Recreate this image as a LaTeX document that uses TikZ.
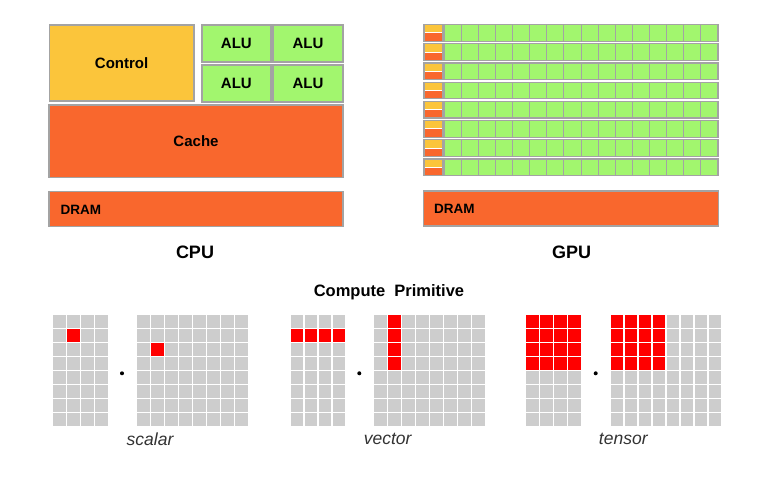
\documentclass[tikz,border=0pt]{standalone}
\usepackage{fontspec}
\setmainfont{Liberation Sans}
\definecolor{ctrl}{HTML}{FBC53B}
\definecolor{alu}{HTML}{A2F66E}
\definecolor{cache}{HTML}{F9672D}
\definecolor{bord}{HTML}{A3A3A3}
\definecolor{cellg}{HTML}{CDCDCD}
\definecolor{cellr}{HTML}{FF0000}
\definecolor{lbl}{HTML}{333333}
\newcommand{\fs}[1]{\fontsize{#1}{#1}\selectfont}
\newcommand{\gridat}[4]{% x0 y0 cols rows
  \foreach \c in {1,...,#3}{
    \foreach \r in {1,...,#4}{
      \fill[cellg] ({#1+14*(\c-1)},{#2+14*(\r-1)}) rectangle ++(12.5,12.5);
    }
  }
}
\newcommand{\redat}[4]{% x0 y0 col row (0-indexed)
  \fill[cellr] ({#1+14*#3},{#2+14*#4}) rectangle ++(12.5,12.5);
}
\begin{document}
\begin{tikzpicture}[x=1pt,y=-1pt,
  blk/.style={draw=bord, line width=1.5pt, inner sep=0pt, font=\bfseries\fs{15}},
  titletxt/.style={font=\bfseries\fs{18}, inner sep=0pt},
  captxt/.style={font=\itshape\fs{17.5}, text=lbl, inner sep=0pt},
  gpucell/.style={draw=bord, line width=1pt, fill=alu}]
\useasboundingbox[fill=white] (0,0) rectangle (762,479);

% ---------------- CPU ----------------
\node[blk, fill=ctrl, minimum width=144.7pt, minimum height=76pt] (control) at (121.6,63) {Control};
\node[blk, fill=alu, minimum width=68.7pt, minimum height=36.7pt] (alu1) at (236.4,43.4) {ALU};
\node[blk, fill=alu, minimum width=70pt, minimum height=36.7pt] (alu2) at (308,43.4) {ALU};
\node[blk, fill=alu, minimum width=68.7pt, minimum height=37pt] (alu3) at (236.4,83.5) {ALU};
\node[blk, fill=alu, minimum width=70pt, minimum height=37pt] (alu4) at (308,83.5) {ALU};
\node[blk, fill=cache, minimum width=294pt, minimum height=72.7pt] (cache) at (196,141.3) {Cache};
\node[blk, fill=cache, minimum width=294pt, minimum height=35pt] (dramc) at (196,209.2) {};
\node[font=\bfseries\fs{13.5}, anchor=west, inner sep=0pt] (dramctxt) at (60.5,210) {DRAM};
\node[titletxt] (cpu) at (195,252.5) {CPU};

% ---------------- GPU ----------------
\foreach \i in {0,...,7}{
  \pgfmathsetmacro{\t}{24.6+19.2*\i}
  \pgfmathsetmacro{\m}{\t+8.1}
  \pgfmathsetmacro{\b}{\t+16.6}
  \fill[ctrl] (424,\t) rectangle (442.7,\m);
  \fill[cache] (424,\m) rectangle (442.7,\b);
  \draw[bord, line width=1.2pt] (424,\t) rectangle (442.7,\b);
  \draw[white, line width=0.8pt] (424.6,\m) -- (442.1,\m);
  \foreach \j in {0,...,15}{
    \pgfmathsetmacro{\xa}{444+17.125*\j}
    \pgfmathsetmacro{\xb}{\xa+17.125}
    \draw[gpucell] (\xa,\t) rectangle (\xb,\b);
  }
  \draw[bord, line width=1.3pt] (444,\t) rectangle (718,\b);
}
\node[blk, fill=cache, minimum width=295pt, minimum height=34.7pt] (dramg) at (570.8,208.4) {};
\node[font=\bfseries\fs{13.5}, anchor=west, inner sep=0pt] (dramgtxt) at (434,209) {DRAM};
\node[titletxt] (gpu) at (571.5,252.5) {GPU};

% ---------------- Compute primitive ----------------
\node[font=\bfseries\fs{16.5}, inner sep=0pt] (cp) at (389,292.5) {Compute\ \ Primitive};

% scalar
\gridat{53.3}{315}{4}{8}
\gridat{137.3}{315}{8}{8}
\redat{53.3}{315}{1}{1}
\redat{137.3}{315}{1}{2}
\fill (122,373.3) circle (2pt);
\node[captxt] (scalar) at (150,439) {scalar};

% vector
\gridat{290.7}{315}{4}{8}
\gridat{374.3}{315}{8}{8}
\foreach \k in {0,...,3}{\redat{290.7}{315}{\k}{1}}
\foreach \k in {0,...,3}{\redat{374.3}{315}{1}{\k}}
\fill (359.3,373.3) circle (2pt);
\node[captxt] (vector) at (387.7,439) {vector};

% tensor
\gridat{526}{315}{4}{8}
\gridat{610.7}{315}{8}{8}
\foreach \k in {0,...,3}{\foreach \l in {0,...,3}{\redat{526}{315}{\k}{\l}}}
\foreach \k in {0,...,3}{\foreach \l in {0,...,3}{\redat{610.7}{315}{\k}{\l}}}
\fill (595.7,373.3) circle (2pt);
\node[captxt] (tensor) at (623.3,439) {tensor};
\end{tikzpicture}
\end{document}
